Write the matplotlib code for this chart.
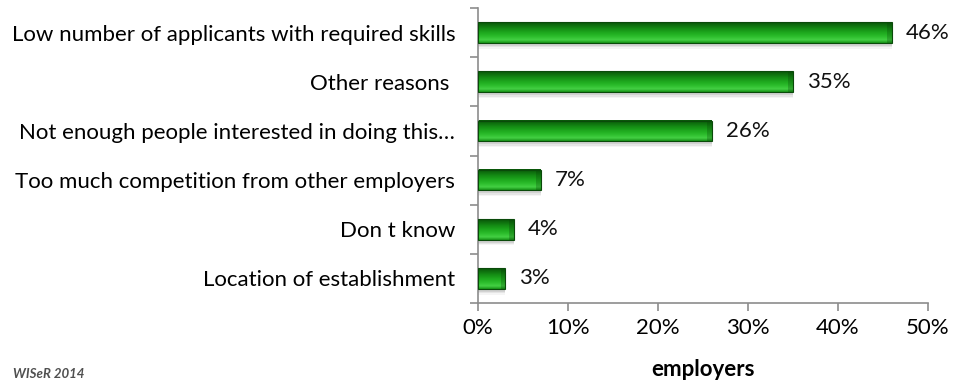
import numpy as np
import matplotlib
matplotlib.use('Agg')
import matplotlib.pyplot as plt
from matplotlib.colors import LinearSegmentedColormap

plt.rcParams['font.family'] = ['Lato', 'DejaVu Sans']

# reasons for hard-to-fill vacancies, share of employers
reasons = ['Low number of applicants with required skills',
           'Other reasons ',
           'Not enough people interested in doing this…',
           'Too much competition from other employers',
           'Don t know',
           'Location of establishment']
shares = [46, 35, 26, 7, 4, 3]
xticks = [0, 10, 20, 30, 40, 50]

fig = plt.figure(figsize=(9.58, 3.92), dpi=100)
ax = fig.add_axes([0.499, 0.227, 0.4697, 0.7526])

n = len(reasons)
ypos = np.arange(n)
h = 0.42
fs = 16

# vertical shading for the bars, bright band near the top, dark at the bottom
grad = LinearSegmentedColormap.from_list(
    'g', ['#0a560a', '#0e6e0e', '#138813', '#1a9e1a', '#22b022', '#2fc02f', '#44d044', '#189418'])
shade = np.linspace(0, 1, 64).reshape(-1, 1)

for y, v in zip(ypos, shares):
    # soft shadow under each bar
    for k, a in zip([0.06, 0.09, 0.12], [0.18, 0.12, 0.07]):
        ax.barh(y + k, v, height=h, color='#7a7a7a', alpha=a, lw=0, zorder=1)
    ax.imshow(shade, cmap=grad, aspect='auto', origin='upper',
              extent=(0, v, y + h / 2, y - h / 2), zorder=2)
    # darker bevel at the bar end
    cap = min(0.6, v * 0.15)
    ax.barh(y, cap, left=v - cap, height=h, color='#063806', alpha=0.25, lw=0, zorder=2.5)
    ax.barh(y, v, height=h, facecolor='none', edgecolor='#0a4a0a', lw=0.8, zorder=3)
    ax.text(v + 1.5, y, f'{v}%', va='center', ha='left', fontsize=fs, color='#111111')

ax.set_xlim(0, 50)
ax.set_ylim(n - 0.5, -0.5)
ax.set_xticks(xticks)
ax.set_xticklabels([f'{t}%' for t in xticks], fontsize=fs)
ax.set_yticks(ypos)
ax.set_yticklabels(reasons, fontsize=fs)
ax.set_yticks(np.arange(n + 1) - 0.5, minor=True)

for s in ['top', 'right']:
    ax.spines[s].set_visible(False)
for s in ['left', 'bottom']:
    ax.spines[s].set_color('#8c8c8c')
    ax.spines[s].set_linewidth(1.2)

ax.tick_params(axis='y', which='major', length=0, pad=16.5)
ax.tick_params(axis='y', which='minor', length=6, color='#8c8c8c', width=1.2)
ax.tick_params(axis='x', length=6, color='#8c8c8c', width=1.2, pad=5)

ax.set_xlabel('employers', fontsize=fs, fontweight='bold', labelpad=15)

fig.text(0.014, 0.03, 'WISeR 2014', fontsize=9.5, style='italic',
         fontweight='bold', color='#505050', va='bottom')

fig.savefig('out.png', dpi=100)
